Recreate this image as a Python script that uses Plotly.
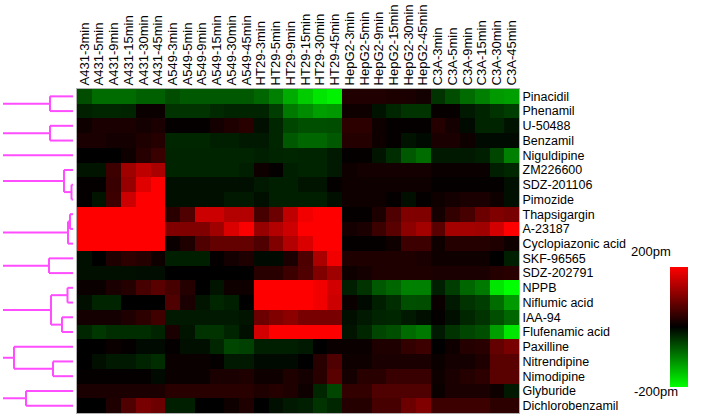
import plotly.graph_objects as go

W, H = 704, 417

columns = ["A431-3min", "A431-5min", "A431-9min", "A431-15min", "A431-30min", "A431-45min",
           "A549-3min", "A549-5min", "A549-9min", "A549-15min", "A549-30min", "A549-45min",
           "HT29-3min", "HT29-5min", "HT29-9min", "HT29-15min", "HT29-30min", "HT29-45min",
           "HepG2-3min", "HepG2-5min", "HepG2-9min", "HepG2-15min", "HepG2-30min", "HepG2-45min",
           "C3A-3min", "C3A-5min", "C3A-9min", "C3A-15min", "C3A-30min", "C3A-45min"]

compounds = ["Pinacidil", "Phenamil", "U-50488", "Benzamil", "Niguldipine", "ZM226600",
             "SDZ-201106", "Pimozide", "Thapsigargin", "A-23187", "Cyclopiazonic acid",
             "SKF-96565", "SDZ-202791", "NPPB", "Niflumic acid", "IAA-94", "Flufenamic acid",
             "Paxilline", "Nitrendipine", "Nimodipine", "Glyburide", "Dichlorobenzamil"]

pinacidil = [-60,-85,-85,-85,-75,-75,-60,-70,-70,-70,-70,-70,-80,-100,-135,-160,-180,-190,25,25,25,22,20,15,-40,-60,-85,-100,-120,-125]
phenamil = [-25,-30,-30,-28,8,8,-40,-40,-40,-32,-28,-28,-28,-48,-95,-110,-125,-120,12,12,-15,-30,-40,-40,5,5,-20,-28,-40,-48]
u50488 = [12,20,20,20,16,20,4,4,4,16,24,32,-12,-30,-55,-62,-62,-60,35,35,12,4,4,4,28,16,-8,-28,-28,-15]
benzamil = [20,20,16,16,24,28,-30,-30,-30,-24,-24,-20,-20,-30,-70,-80,-80,-70,28,28,12,4,-15,-8,20,20,12,-8,-8,-8]
niguldipine = [0,0,0,12,30,44,-28,-28,-28,-28,-28,-28,-24,-28,-30,-28,-28,-20,4,4,-16,-35,-70,-85,-20,-20,-20,-24,-55,-100]
zm226600 = [-16,-16,48,125,150,133,-28,-28,-28,-28,-28,-24,12,4,-24,-28,-28,-20,12,16,16,16,16,16,8,8,8,8,-24,-30]
sdz201106 = [4,4,44,118,176,220,-12,-12,-12,-12,-12,-12,-20,-24,-24,-16,-16,4,12,12,12,12,12,12,4,4,4,4,4,-12]
pimozide = [4,-16,48,160,220,220,-12,-12,-12,-12,-20,-20,-12,-24,-24,-24,-24,-12,12,12,12,4,-12,4,12,16,20,20,12,-12]
thapsigargin = [250,250,250,250,250,250,32,62,160,160,140,140,55,85,150,190,220,220,4,4,22,62,100,100,16,40,55,85,100,95]
a23187 = [250,250,250,250,250,250,100,100,100,125,172,196,118,140,160,220,220,220,16,20,46,70,110,128,70,128,128,125,165,210]
cyclopiazonic = [250,250,250,250,250,250,8,24,62,78,78,78,62,100,140,172,220,220,4,4,4,12,47,47,12,28,28,28,24,12]
skf96565 = [-12,0,24,35,28,12,-24,-24,-24,4,16,24,-8,-8,20,60,133,190,24,24,24,24,24,20,12,12,12,12,0,-24]
sdz202791 = [-12,-12,-12,-12,-10,-10,0,0,0,0,0,0,32,32,48,62,100,125,12,16,24,24,24,24,20,20,20,20,28,32]
nppb = [8,8,20,28,55,70,55,28,0,-16,12,12,220,220,220,220,190,165,-24,-40,-70,-80,-100,-100,-24,-48,-80,-95,-180,-200]
niflumic = [-12,-28,-28,0,0,0,62,20,-16,-30,-24,0,220,220,220,220,190,160,8,-8,-24,-35,-62,-60,8,-20,-40,-48,-85,-120]
iaa94 = [16,16,16,24,35,50,-20,-20,-20,-20,-20,-16,85,100,110,95,95,95,-12,-20,-28,-30,-20,-12,4,-12,-30,-40,-62,-80]
flufenamic = [-30,-43,-35,-35,-35,-28,20,-16,-40,-40,-28,-12,165,220,220,220,220,220,-16,-30,-55,-62,-85,-95,-20,-40,-55,-62,-125,-180]
paxilline = [0,0,8,4,-8,-8,4,-12,-12,-30,-55,-50,-24,-24,-24,-20,0,8,8,8,24,24,40,47,0,12,28,32,78,95]
nitrendipine = [0,-12,-20,-20,-28,-35,8,8,8,4,-20,-20,-8,-8,-8,0,32,62,12,12,20,20,20,20,8,16,16,24,70,70]
nimodipine = [4,4,4,4,4,-8,8,8,8,20,20,24,12,12,24,16,32,70,16,32,32,44,44,44,12,20,28,35,70,70]
glyburide = [20,20,20,20,20,20,32,32,32,32,32,32,24,28,24,12,-30,-55,40,40,62,62,62,62,8,20,20,20,12,-20]
dichlorobenzamil = [0,0,24,62,95,85,-24,-24,0,0,12,24,0,-12,-20,-24,-40,-30,28,28,55,55,85,100,47,47,47,47,35,35]

z_values = [pinacidil, phenamil, u50488, benzamil, niguldipine, zm226600, sdz201106, pimozide,
            thapsigargin, a23187, cyclopiazonic, skf96565, sdz202791, nppb, niflumic, iaa94,
            flufenamic, paxilline, nitrendipine, nimodipine, glyburide, dichlorobenzamil]

# dendrogram clusters: (left, right, merge height); leaves are compound names
clusters = [
    ("Pinacidil", "Phenamil", 23),
    ("U-50488", "Benzamil", 23),
    "Niguldipine",
    ("ZM226600", ("SDZ-201106", "Pimozide", 1.5), 9),
    (("Thapsigargin", "A-23187", 3), "Cyclopiazonic acid", 5),
    ("SKF-96565", "SDZ-202791", 24),
    (("NPPB", "Niflumic acid", 5.5), ("IAA-94", "Flufenamic acid", 11), 22),
    ("Paxilline", ("Nitrendipine", "Nimodipine", 20), 59),
    ("Glyburide", "Dichlorobenzamil", 47),
]
root_height = 70

zmin, zmax = -200, 200
FONT = "Liberation Sans, Arial, sans-serif"

fig = go.Figure()

fig.add_trace(go.Heatmap(
    z=z_values, x=list(range(len(columns))), y=list(range(len(compounds))),
    zmin=zmin, zmax=zmax, zsmooth=False,
    colorscale=[[0, "#00ff00"], [0.5, "#000000"], [1, "#ff0000"]],
    xgap=0, ygap=0,
    colorbar=dict(x=670 / W, xanchor="left", xpad=0, ypad=0, thickness=18,
                  len=120, lenmode="pixels", y=1 - 327 / H, yanchor="middle",
                  outlinewidth=0, showticklabels=False, ticks=""),
    hoverinfo="skip",
))

# dendrogram lines
xs, ys = [], []
idx = {name: i for i, name in enumerate(compounds)}


def walk(node):
    if isinstance(node, str):
        return idx[node], 0.0
    left, right, h = node
    yl, hl = walk(left)
    yr, hr = walk(right)
    xs.extend([hl, h, None, hr, h, None, h, h, None])
    ys.extend([yl, yl, None, yr, yr, None, yl, yr, None])
    return (yl + yr) / 2, h


for c in clusters:
    yc, hc = walk(c)
    xs.extend([hc, root_height, None])
    ys.extend([yc, yc, None])

fig.add_trace(go.Scatter(x=xs, y=ys, mode="lines", xaxis="x2", yaxis="y",
                         line=dict(color="#ff4dff", width=2), hoverinfo="skip",
                         showlegend=False))

fig.update_layout(
    width=W, height=H, margin=dict(l=0, r=0, t=0, b=0, autoexpand=False),
    paper_bgcolor="white", plot_bgcolor="white",
    font=dict(family=FONT, color="black"),
    showlegend=False,
    xaxis=dict(domain=[77 / W, 519 / W], side="top", tickmode="array",
               tickvals=list(range(len(columns))), ticktext=columns, tickangle=-90,
               tickfont=dict(size=13, family=FONT, color="black"), ticks="",
               range=[-0.5, len(columns) - 0.5], showgrid=False, zeroline=False,
               showline=True, linecolor="#b0b0b0", linewidth=1, mirror=True, anchor="y",
               automargin=False),
    yaxis=dict(domain=[1 - 413 / H, 1 - 89 / H], side="right", tickmode="array",
               tickvals=list(range(len(compounds))), ticktext=compounds,
               tickfont=dict(size=12.5, family=FONT, color="black"), ticks="",
               range=[len(compounds) - 0.5, -0.5], showgrid=False, zeroline=False,
               showline=True, linecolor="#b0b0b0", linewidth=1, mirror=True, anchor="x",
               automargin=False),
    xaxis2=dict(domain=[0, 77 / W], range=[73, -4], visible=False, anchor="y",
                showgrid=False, zeroline=False, automargin=False),
    annotations=[
        dict(text="200pm", x=673 / W, y=1 - 251 / H, xref="paper", yref="paper",
             showarrow=False, font=dict(size=13, family=FONT, color="black")),
        dict(text="-200pm", x=680 / W, y=1 - 401 / H, xref="paper", yref="paper",
             showarrow=False, font=dict(size=13, family=FONT, color="black")),
    ],
)

fig.write_html("out.html", config={"displayModeBar": False},
               post_script="document.body.style.margin='0';document.body.style.overflow='hidden';")
